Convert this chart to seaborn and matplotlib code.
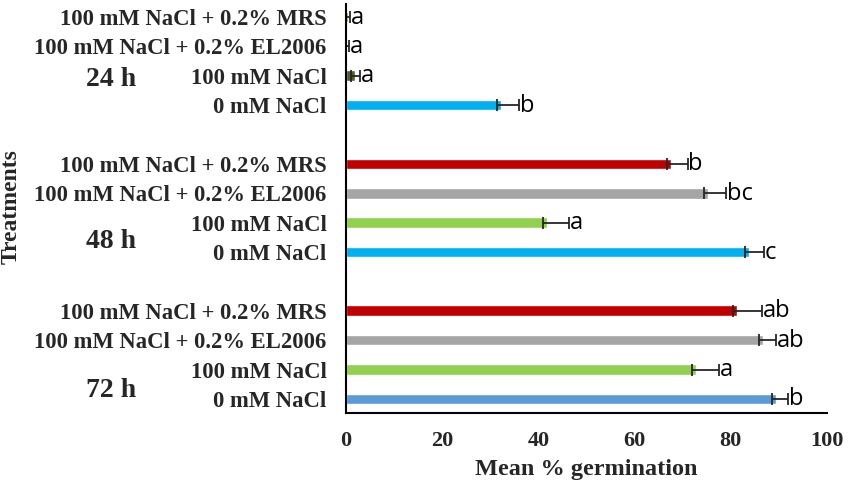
import pandas as pd
import numpy as np
import matplotlib.pyplot as plt
import seaborn as sns

# germination data (mean %, upper error, letters)
times = ["24 h", "48 h", "72 h"]
treatments = ["100 mM NaCl + 0.2% MRS", "100 mM NaCl + 0.2% EL2006",
              "100 mM NaCl", "0 mM NaCl"]

mean_24h = [0.5, 0.3, 1.9, 32.2]
mean_48h = [67.5, 75.3, 41.7, 83.8]
mean_72h = [81.2, 86.7, 72.8, 89.3]

err_24h = [0.3, 0.3, 1.0, 3.8]
err_48h = [3.5, 3.8, 4.7, 3.0]
err_72h = [5.2, 2.6, 4.7, 2.6]

letters_24h = ["a", "a", "a", "b"]
letters_48h = ["b", "bc", "a", "c"]
letters_72h = ["ab", "ab", "a", "b"]

colors_24h = ["#B8860B", "#A5A5A5", "#4F6228", "#00B0F0"]
colors_48h = ["#C00000", "#A5A5A5", "#92D050", "#00B0F0"]
colors_72h = ["#C00000", "#A5A5A5", "#92D050", "#5B9BD5"]

rows = []
for t, means, errs, lets, cols in zip(
        times,
        [mean_24h, mean_48h, mean_72h],
        [err_24h, err_48h, err_72h],
        [letters_24h, letters_48h, letters_72h],
        [colors_24h, colors_48h, colors_72h]):
    for tr, m, e, l, c in zip(treatments, means, errs, lets, cols):
        rows.append({"key": f"{t}|{tr}", "time": t, "treatment": tr,
                     "mean": m, "err": e, "letter": l, "color": c})
df = pd.DataFrame(rows)

# category order with an empty slot between time groups
order = []
for i, t in enumerate(times):
    order += [f"{t}|{tr}" for tr in treatments]
    if i < len(times) - 1:
        order.append(f"gap{i}")

sns.set_theme(style="white")
plt.rcParams["font.family"] = ["Liberation Serif", "DejaVu Serif"]

fig = plt.figure(figsize=(8.51, 4.93), dpi=100)
ax = fig.add_axes([346 / 851, 80 / 493, 481 / 851, 409 / 493])

palette = dict(zip(df["key"], df["color"]))
sns.barplot(data=df, y="key", x="mean", order=order, hue="key",
            palette=palette, legend=False, width=0.36, errorbar=None,
            saturation=1, ax=ax)

pos = {k: i for i, k in enumerate(order)}
ypos = df["key"].map(pos).to_numpy()
lower = np.minimum(df["mean"].to_numpy(), 0.8)
ax.errorbar(df["mean"], ypos, xerr=[lower, df["err"]], fmt="none",
            ecolor="#262626", elinewidth=1.3, capsize=4, capthick=1.3)

for y, m, e, l in zip(ypos, df["mean"], df["err"], df["letter"]):
    ax.text(m + e + 0.2, y + 0.02, l, ha="left", va="center",
            fontsize=17, family=["Open Sans", "DejaVu Sans"], color="black")

ax.set_xlim(0, 100)
ax.set_ylim(13.48, -0.44)
ax.set_xticks(range(0, 101, 20))
ax.set_yticks(range(len(order)))
ax.set_yticklabels([k.split("|")[1] if "|" in k else "" for k in order],
                   fontsize=16.3, fontweight="bold")
for lab in ax.get_xticklabels():
    lab.set_fontsize(16)
    lab.set_fontweight("bold")
ax.tick_params(axis="both", length=0)
ax.tick_params(axis="y", pad=14)
ax.tick_params(axis="x", pad=13)

ax.set_ylabel("")
ax.set_xlabel("Mean % germination", fontsize=17.5, fontweight="bold",
              labelpad=6)

for s in ["top", "right"]:
    ax.spines[s].set_visible(False)
for s in ["left", "bottom"]:
    ax.spines[s].set_color("black")
    ax.spines[s].set_linewidth(1.5)

# time-point labels to the left of each group
group_y = [2.14, 7.65, 12.7]
trans = ax.get_yaxis_transform()
for t, gy in zip(times, group_y):
    ax.text(-235 / 481, gy, t, transform=trans, ha="center", va="center",
            fontsize=20, fontweight="bold")

fig.text(11 / 851, 1 - 207 / 493, "Treatments", rotation=90, ha="center",
         va="center", fontsize=17, fontweight="bold")

fig.savefig("out.png", dpi=100)
